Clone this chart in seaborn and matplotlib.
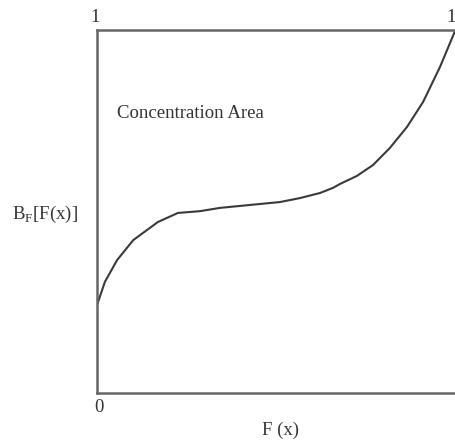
import matplotlib
matplotlib.use("Agg")
import matplotlib.pyplot as plt
import seaborn as sns
import pandas as pd

# Data (Lorenz-like concentration curve)
F_x = [0.000, 0.022, 0.056, 0.101, 0.170, 0.226, 0.288, 0.344, 0.427, 0.511,
       0.567, 0.623, 0.659, 0.679, 0.726, 0.771, 0.818, 0.866, 0.911, 0.958, 1.000]
B_F = [0.242, 0.306, 0.366, 0.421, 0.471, 0.496, 0.501, 0.510, 0.518, 0.526,
       0.537, 0.551, 0.565, 0.576, 0.598, 0.628, 0.675, 0.733, 0.802, 0.898, 0.997]

x_label = "F (x)"
y_label = r"B$_\mathrm{F}$[F(x)]"
area_label = "Concentration Area"
corner_labels = ["1", "1", "0"]

sns.set_style("white")
plt.rcParams["font.family"] = ["Liberation Serif", "DejaVu Serif"]
plt.rcParams["mathtext.fontset"] = "custom"
plt.rcParams["mathtext.rm"] = "Liberation Serif"

W, H = 456, 445
fig = plt.figure(figsize=(W / 100, H / 100), dpi=100)
ax = fig.add_axes([97 / W, (H - 393) / H, 358 / W, 363 / H])

df = pd.DataFrame({"F": F_x, "B": B_F})
sns.lineplot(data=df, x="F", y="B", ax=ax, color="#3a3a3a", linewidth=1.5,
             sort=False, estimator=None)

ax.set_xlim(0, 1)
ax.set_ylim(0, 1)
ax.set_xticks([])
ax.set_yticks([])
ax.set_xlabel("")
ax.set_ylabel("")
for side in ["left", "top", "bottom"]:
    ax.spines[side].set_color("#666666")
    ax.spines[side].set_linewidth(1.8)
ax.spines["right"].set_visible(False)

tc = "#333333"
fs = 13.5

def ftext(px, py, s, **kw):
    fig.text(px / W, 1 - py / H, s, color=tc, fontsize=fs, **kw)

ftext(95, 17, corner_labels[0], ha="center", va="center")
ftext(451, 17, corner_labels[1], ha="center", va="center")
ftext(99, 408, corner_labels[2], ha="center", va="center")
ftext(281, 430, x_label, ha="center", va="center")
ftext(45, 214, y_label, ha="center", va="center")
ftext(117, 118, area_label, ha="left", va="baseline")

fig.savefig("out.png", dpi=100)
